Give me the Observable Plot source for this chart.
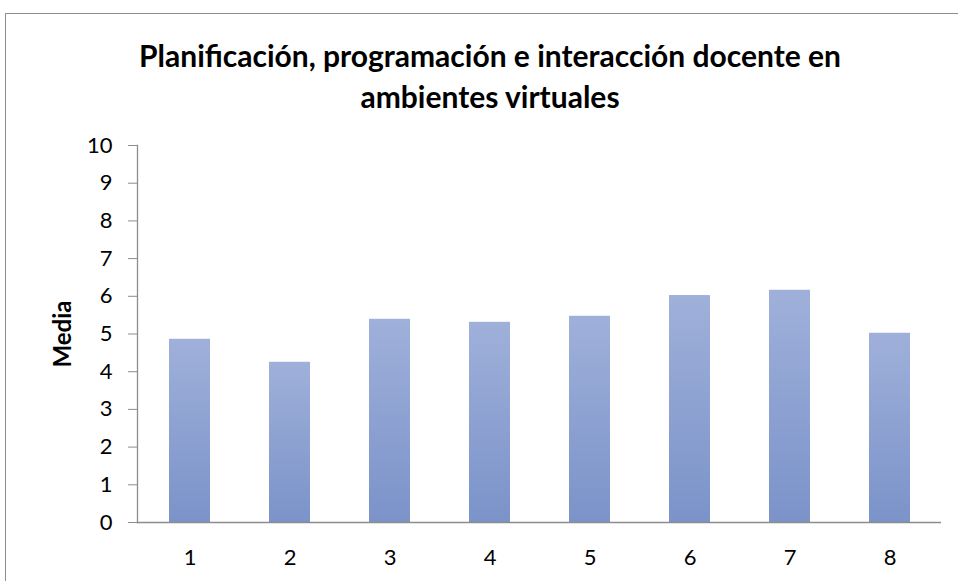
<!DOCTYPE html>
<html>
<head>
<meta charset="utf-8">
<script src="https://cdn.jsdelivr.net/npm/d3@7"></script>
<script src="https://cdn.jsdelivr.net/npm/@observablehq/plot@0.6"></script>
<style>
  html, body { margin: 0; padding: 0; background: #fff; overflow: hidden; }
  #wrap { position: relative; width: 958px; height: 581px; overflow: hidden; font-family: Lato, "Open Sans", sans-serif; }
  #border { position: absolute; left: 5px; top: 13px; width: 1200px; height: 1200px; border: 1px solid #8c8c8c; box-sizing: border-box; }
  #title { position: absolute; left: 0; top: 35px; width: 980px; text-align: center; font-weight: bold; font-size: 30px; line-height: 41px; color: #000; }
  #chart { position: absolute; left: 0; top: 0; }
  #chart svg text { font-size: 22px; }
</style>
</head>
<body>
<div id="wrap">
  <div id="border"></div>
  <div id="chart"></div>
  <div id="title">Planificación, programación e interacción docente en<br>ambientes virtuales</div>
</div>
<script>
const categories = ["1", "2", "3", "4", "5", "6", "7", "8"];
const values = [4.86, 4.25, 5.39, 5.31, 5.47, 6.02, 6.16, 5.02];
const yTicks = [0, 1, 2, 3, 4, 5, 6, 7, 8, 9, 10];
const yLabel = "Media";

const data = categories.map((c, i) => ({ cat: c, value: values[i] }));

const plot = Plot.plot({
  width: 958,
  height: 581,
  marginLeft: 137,
  marginRight: 17,
  marginTop: 145,
  marginBottom: 59,
  style: { fontFamily: "Lato, 'Open Sans', sans-serif", fontSize: "22px", color: "#000", background: "transparent", overflow: "visible" },
  x: { domain: categories, paddingInner: 0.59, paddingOuter: 0.295, label: null },
  y: { domain: [0, 10], label: null },
  marks: [
    Plot.barY(data, { x: "cat", y: "value", fill: "url(#barGrad)" }),
    Plot.axisY({ ticks: yTicks, tickSize: 9, tickPadding: 16, stroke: "#8c8c8c", label: null }),
    Plot.axisX({ tickSize: 0, tickPadding: 27, label: null }),
    Plot.ruleY([0], { stroke: "#8c8c8c", strokeWidth: 1.3 }),
    Plot.frame({ anchor: "left", stroke: "#8c8c8c", strokeWidth: 1.3 })
  ]
});

const svg = d3.select(plot);
const defs = svg.insert("defs", ":first-child");
const g = defs.append("linearGradient").attr("id", "barGrad").attr("x1", 0).attr("y1", 0).attr("x2", 0).attr("y2", 1);
g.append("stop").attr("offset", "0%").attr("stop-color", "#9fb0da");
g.append("stop").attr("offset", "100%").attr("stop-color", "#7b93c9");

svg.append("text")
  .attr("transform", `translate(71, 334) rotate(-90)`)
  .attr("text-anchor", "middle")
  .attr("font-weight", "bold")
  .attr("fill", "#000")
  .style("font-size", "24px")
  .text(yLabel);

document.getElementById("chart").appendChild(plot);
</script>
</body>
</html>
